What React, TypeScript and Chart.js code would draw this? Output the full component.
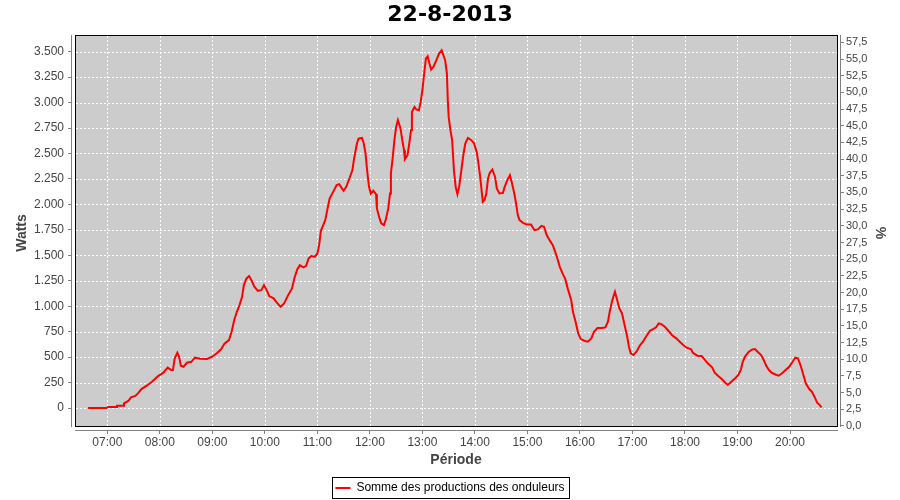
import React, { useEffect, useRef } from 'react';
import { Chart, registerables } from 'chart.js';

Chart.register(...registerables);

const CHART_TITLE = '22-8-2013';
const SERIES_LABEL = 'Somme des productions des onduleurs';
const X_TITLE = 'Période';
const Y_TITLE = 'Watts';
const Y2_TITLE = '%';
const FONT = "'Liberation Sans', Arial, sans-serif";
const TITLE_FONT = "'DejaVu Sans', 'Liberation Sans', sans-serif";

// minutes since midnight
const minutes: number[] = [
  398, 419, 421, 430, 431, 438, 439, 444, 447, 452, 455, 459, 465, 471, 478, 484, 489, 493, 495, 497, 500, 502, 504, 507, 511, 516, 520, 526, 534, 537,
  540, 545, 550, 554, 559, 562, 565, 568, 571, 574, 576, 579, 582, 585, 588, 592, 596, 599, 602, 605, 610, 613, 618, 622, 626, 631, 634, 637, 640, 644, 647, 650, 653, 657, 660, 662, 664,
  669, 672, 674, 678, 682, 685, 688, 690, 693, 697, 700, 702, 705, 707, 711, 713, 715, 717, 719, 721, 724, 727, 728, 731, 733, 736, 738, 741, 743, 744, 746, 748, 750, 752, 755, 757, 759, 760, 763, 765, 767, 768, 771, 773, 776, 778, 780, 782, 784, 786, 788, 790, 793, 796, 799, 802, 804,
  806, 808, 809, 810, 812, 814, 816, 818, 820, 822, 825, 827, 829, 832, 836, 839, 842, 844, 846, 848, 849, 851, 853, 855, 857, 860, 863, 865, 868, 872, 874, 877, 880, 882, 885, 887, 889, 891, 895, 899, 904, 908, 912, 916, 919, 922, 926, 929, 933, 937, 941,
  943, 946, 950, 952, 955, 958, 961, 965, 969, 973, 976, 980, 985, 989, 992, 994, 997, 1000, 1002, 1005, 1008, 1011, 1014, 1016, 1018, 1021, 1025, 1028, 1032, 1036, 1040, 1043, 1047, 1050, 1053, 1057, 1061, 1065, 1070, 1074, 1078, 1082, 1087,
  1089, 1094, 1099, 1103, 1106, 1111, 1114, 1118, 1122, 1126, 1129, 1133, 1138, 1141, 1144, 1146, 1149, 1153, 1157, 1160, 1163, 1167, 1170, 1173, 1176, 1179, 1182, 1187, 1191, 1195, 1199, 1203, 1206, 1209, 1212, 1215, 1218, 1222, 1225, 1228, 1231, 1234, 1236,
];

const watts: number[] = [
  0, 0, 10, 10, 23, 23, 46, 69, 105, 118, 144, 186, 219, 258, 314, 347, 396, 373, 373, 488, 543, 504, 415, 405, 445, 454, 494, 484, 481, 494,
  504, 537, 576, 635, 667, 749, 864, 945, 1011, 1093, 1207, 1273, 1296, 1250, 1191, 1151, 1158, 1207, 1158, 1099, 1077, 1043, 994, 1028, 1099, 1175, 1283, 1361, 1404, 1381, 1394, 1469, 1492, 1485, 1518, 1600, 1740,
  1845, 1976, 2058, 2123, 2189, 2199, 2157, 2133, 2172, 2264, 2336, 2451, 2591, 2647, 2653, 2598, 2500, 2319, 2172, 2107, 2133, 2100, 1960, 1862, 1813, 1796, 1845, 1960, 2107, 2304, 2451, 2631, 2761, 2827, 2745, 2631, 2532, 2444, 2483, 2598, 2729, 2908, 2957, 2932, 2925, 3006, 3121, 3285, 3432, 3455, 3383, 3324, 3357, 3416, 3481, 3514, 3465,
  3416, 3285, 3023, 2859, 2729, 2631, 2336, 2172, 2100, 2172, 2369, 2500, 2598, 2653, 2631, 2598, 2516, 2402, 2270, 2107, 2025, 2042, 2107, 2254, 2310, 2343, 2270, 2157, 2107, 2113, 2172, 2238, 2287, 2221, 2107, 2009, 1894, 1845, 1819, 1803, 1803, 1747, 1754, 1789, 1780, 1698, 1639, 1600, 1502, 1387, 1305,
  1273, 1175, 1060, 945, 847, 733, 677, 661, 651, 684, 749, 785, 785, 792, 847, 945, 1060, 1142, 1077, 979, 930, 815, 700, 602, 537, 520, 559, 609, 651, 707, 759, 772, 792, 831, 824, 798, 759, 717, 684, 651, 618, 592, 576,
  543, 514, 510, 471, 439, 399, 347, 314, 285, 248, 226, 258, 297, 324, 380, 454, 510, 553, 576, 579, 553, 520, 471, 412, 373, 347, 334, 317, 341, 373, 405, 454, 494, 488, 422, 334, 242, 186, 160, 111, 52, 29, 5,
];

const timeTicks: number[] = [420, 480, 540, 600, 660, 720, 780, 840, 900, 960, 1020, 1080, 1140, 1200];
const wattTicks: number[] = [0, 250, 500, 750, 1000, 1250, 1500, 1750, 2000, 2250, 2500, 2750, 3000, 3250, 3500];
const pctTicks: number[] = [0, 2.5, 5, 7.5, 10, 12.5, 15, 17.5, 20, 22.5, 25, 27.5, 30, 32.5, 35, 37.5, 40, 42.5, 45, 47.5, 50, 52.5, 55, 57.5];

const X_MIN = 378.49;
const X_MAX = 1258.27;
const Y_MIN = -225.9;
const Y_MAX = 3663.7;
const Y2_MIN = -0.75;
const Y2_MAX = 58.6;

const fmtTime = (v: number) => {
  const h = Math.floor(v / 60);
  const m = Math.round(v - h * 60);
  return String(h).padStart(2, '0') + ':' + String(m).padStart(2, '0');
};
const fmtThousands = (v: number) => String(Math.round(v)).replace(/\B(?=(\d{3})+(?!\d))/g, '.');
const fmtPct = (v: number) => v.toFixed(1).replace('.', ',');

const plotFrame = {
  id: 'plotFrame',
  beforeDatasetsDraw(chart: any) {
    const { ctx, chartArea: a, scales } = chart;
    const L = a.left + 4;
    const R = a.right - 4;
    const T = a.top;
    const B = a.bottom - 4;
    ctx.save();
    ctx.fillStyle = '#cccccc';
    ctx.fillRect(L, T, R - L + 1, B - T);
    ctx.strokeStyle = '#ffffff';
    ctx.lineWidth = 1;
    ctx.setLineDash([2, 2]);
    for (const t of scales.x.ticks) {
      const px = Math.round(scales.x.getPixelForValue(t.value)) + 0.5;
      ctx.beginPath();
      ctx.moveTo(px, T + 1);
      ctx.lineTo(px, B);
      ctx.stroke();
    }
    for (const t of scales.y.ticks) {
      const py = Math.round(scales.y.getPixelForValue(t.value)) + 0.5;
      ctx.beginPath();
      ctx.moveTo(L + 1, py);
      ctx.lineTo(R, py);
      ctx.stroke();
    }
    ctx.setLineDash([]);
    ctx.strokeStyle = '#000000';
    ctx.strokeRect(L + 0.5, T + 0.5, R - L, B - T - 1);
    ctx.strokeStyle = '#808080';
    ctx.beginPath();
    ctx.moveTo(a.left + 0.5, T);
    ctx.lineTo(a.left + 0.5, B);
    ctx.moveTo(a.right - 0.5, T);
    ctx.lineTo(a.right - 0.5, B);
    ctx.moveTo(L, a.bottom - 0.5);
    ctx.lineTo(R + 1, a.bottom - 0.5);
    ctx.stroke();
    ctx.restore();
  },
  afterDraw(chart: any) {
    const lg = chart.legend;
    const hb = lg && lg.legendHitBoxes && lg.legendHitBoxes[0];
    if (!hb) return;
    const { ctx } = chart;
    const x0 = Math.round(hb.left) - 3;
    const x1 = Math.round(hb.left + hb.width) + 4;
    const y0 = Math.round(hb.top) - 5;
    const y1 = Math.round(hb.top + hb.height) + 4;
    ctx.save();
    ctx.strokeStyle = '#000000';
    ctx.lineWidth = 1;
    ctx.strokeRect(x0 + 0.5, y0 + 0.5, x1 - x0, y1 - y0);
    ctx.restore();
  },
};

export default function App() {
  const canvasRef = useRef<HTMLCanvasElement | null>(null);

  useEffect(() => {
    if (!canvasRef.current) return;
    const chart = new Chart(canvasRef.current, {
      type: 'line',
      data: {
        datasets: [
          {
            label: SERIES_LABEL,
            data: minutes.map((m, i) => ({ x: m, y: watts[i] })),
            borderColor: '#ff0000',
            backgroundColor: '#ff0000',
            borderWidth: 2,
            pointRadius: 0,
            tension: 0,
            xAxisID: 'x',
            yAxisID: 'y',
          },
        ],
      },
      options: {
        animation: false,
        responsive: false,
        devicePixelRatio: 1,
        events: [],
        layout: { padding: { top: 0, left: 0, right: 0, bottom: -4 } },
        plugins: {
          title: {
            display: true,
            text: CHART_TITLE,
            color: '#000000',
            font: { family: TITLE_FONT, size: 22, weight: 'bold' },
            padding: { top: 1.8, bottom: 6.8 },
          },
          legend: {
            display: true,
            position: 'bottom',
            labels: {
              boxWidth: 15,
              boxHeight: 2,
              padding: 11,
              color: '#000000',
              font: { family: FONT, size: 12 },
              generateLabels: () => [
                {
                  text: SERIES_LABEL,
                  fillStyle: '#ff0000',
                  strokeStyle: '#ff0000',
                  lineWidth: 0,
                  hidden: false,
                  datasetIndex: 0,
                  fontColor: '#000000',
                } as any,
              ],
            },
          },
          tooltip: { enabled: false },
        },
        scales: {
          x: {
            type: 'linear',
            position: 'bottom',
            min: X_MIN,
            max: X_MAX,
            afterBuildTicks: (s: any) => {
              s.ticks = timeTicks.map((v) => ({ value: v }));
            },
            afterFit: (s: any) => {
              s.height = 40;
            },
            grid: { drawOnChartArea: false, drawTicks: true, tickLength: 3, tickColor: '#808080', lineWidth: 1 },
            border: { display: false },
            ticks: {
              autoSkip: false,
              maxRotation: 0,
              minRotation: 0,
              padding: 1,
              color: '#444444',
              font: { family: FONT, size: 12 },
              callback: (v: any) => fmtTime(Number(v)),
            },
            title: {
              display: true,
              text: X_TITLE,
              color: '#444444',
              font: { family: FONT, size: 14, weight: 'bold' },
              padding: { top: 2, bottom: 2 },
            },
          },
          y: {
            type: 'linear',
            position: 'left',
            min: Y_MIN,
            max: Y_MAX,
            afterBuildTicks: (s: any) => {
              s.ticks = wattTicks.map((v) => ({ value: v }));
            },
            afterFit: (s: any) => {
              s.width = 71;
            },
            grid: { drawOnChartArea: false, drawTicks: true, tickLength: 3, tickColor: '#808080', lineWidth: 1 },
            border: { display: false },
            ticks: {
              autoSkip: false,
              padding: 4,
              color: '#444444',
              font: { family: FONT, size: 12 },
              callback: (v: any) => fmtThousands(Number(v)),
            },
            title: {
              display: true,
              text: Y_TITLE,
              color: '#444444',
              font: { family: FONT, size: 14, weight: 'bold' },
              padding: { top: 13.6, bottom: 0 },
            },
          },
          y2: {
            type: 'linear',
            position: 'right',
            min: Y2_MIN,
            max: Y2_MAX,
            afterBuildTicks: (s: any) => {
              s.ticks = pctTicks.map((v) => ({ value: v }));
            },
            afterFit: (s: any) => {
              s.width = 59;
            },
            grid: { drawOnChartArea: false, drawTicks: true, tickLength: 3, tickColor: '#808080', lineWidth: 1 },
            border: { display: false },
            ticks: {
              autoSkip: false,
              padding: 2,
              color: '#444444',
              font: { family: FONT, size: 11 },
              callback: (v: any) => fmtPct(Number(v)),
            },
            title: {
              display: true,
              text: Y2_TITLE,
              color: '#444444',
              font: { family: FONT, size: 14, weight: 'bold' },
              padding: { top: 11.6, bottom: 0 },
            },
          },
        },
      } as any,
      plugins: [plotFrame],
    });
    return () => chart.destroy();
  }, []);

  return (
    <div style={{ position: 'fixed', left: 0, top: 0, width: 900, height: 500, background: '#ffffff' }}>
      <canvas ref={canvasRef} width={900} height={500} style={{ display: 'block', width: 900, height: 500 }} />
    </div>
  );
}
